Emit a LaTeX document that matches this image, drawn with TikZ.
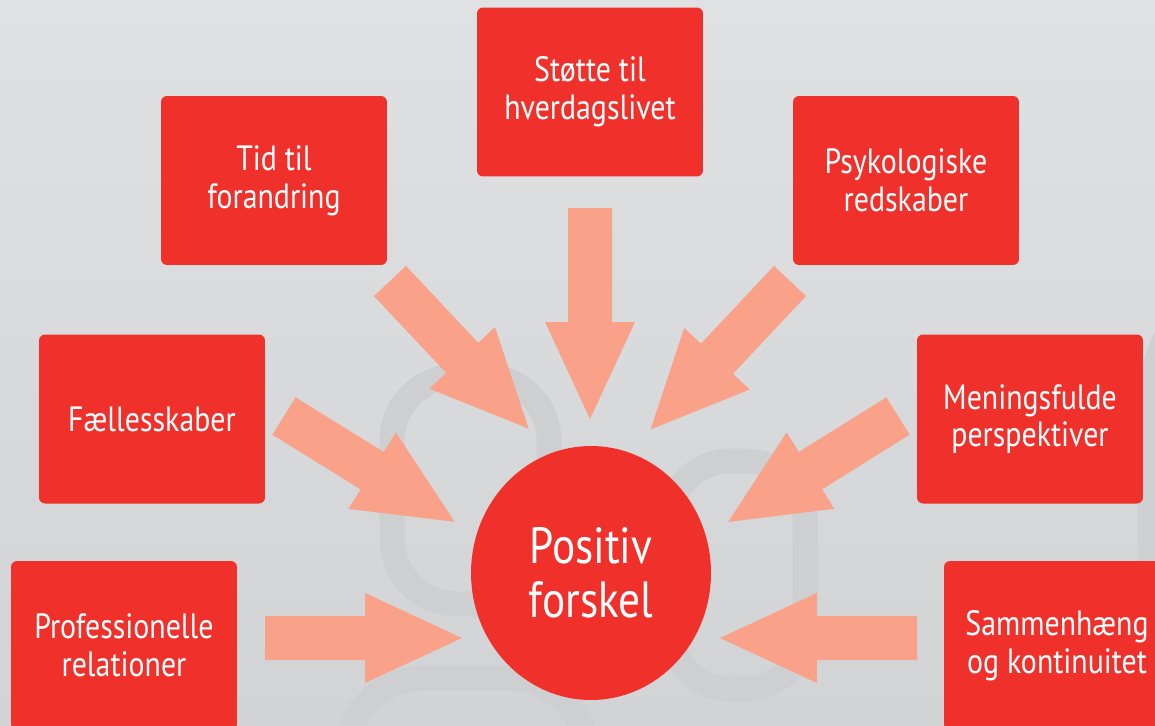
\documentclass[tikz,border=0pt]{standalone}
\usepackage{fontspec}
\setmainfont{PT Sans}[FakeStretch=0.85]
\usetikzlibrary{calc, shapes.geometric}

\definecolor{boxred}{RGB}{240,48,43}
\definecolor{arrowpink}{RGB}{249,161,137}
\definecolor{bgtop}{RGB}{224,225,227}
\definecolor{bgbottom}{RGB}{210,211,213}
\definecolor{marklines}{RGB}{206,207,209}

\tikzset{
  redbox/.style={fill=boxred, text=white, rounded corners=0.12cm,
    minimum width=4.52cm, minimum height=3.38cm, inner sep=0pt,
    align=center, font=\fontsize{20}{21.5}\selectfont},
  hub/.style={ellipse, fill=boxred, text=white, inner sep=0pt,
    minimum width=4.8cm, minimum height=5.08cm,
    align=center, font=\fontsize{29}{31}\selectfont},
  watermark/.style={draw=marklines, line width=0.5cm},
}

% block arrow from #1 (tail) to #2 (tip)
\newcommand{\blockarrow}[2]{%
  \fill[arrowpink] let \p1 = ($(#2)-(#1)$), \n1 = {atan2(\y1,\x1)},
      \n2 = {veclen(\x1,\y1)} in
    {[shift={(#1)}, rotate=\n1]
      (0pt,-0.44cm) -- ({\n2-1.94cm},-0.44cm) -- ({\n2-1.94cm},-0.9cm)
      -- (\n2,0pt) -- ({\n2-1.94cm},0.9cm) -- ({\n2-1.94cm},0.44cm)
      -- (0pt,0.44cm) -- cycle};
}

\begin{document}
\begin{tikzpicture}[x=0.02cm, y=-0.02cm]
    \useasboundingbox (0,0) rectangle (1155,725);
    \clip (0,0) rectangle (1155,725);

    % Background
    \shade[top color=bgtop, bottom color=bgbottom] (0,0) rectangle (1155,725);
    \draw[watermark, rounded corners=1.3cm] (392,376) rectangle (549,604);
    \draw[watermark, rounded corners=1.2cm] (670,461) rectangle (805,689);
    \draw[watermark, rounded corners=1.6cm] (345,678) rectangle (588,900);
    \draw[watermark, rounded corners=3cm] (1150,255) rectangle (1450,800);

    % Arrow ends
    \coordinate (tid-out) at (390,281);   \coordinate (tid-in) at (529,429);
    \coordinate (stotte-out) at (590,208); \coordinate (stotte-in) at (590,419);
    \coordinate (psyk-out) at (790,281);  \coordinate (psyk-in) at (650,430);
    \coordinate (faelles-out) at (284,416); \coordinate (faelles-in) at (455,522);
    \coordinate (mening-out) at (898,416); \coordinate (mening-in) at (728,522);
    \coordinate (prof-out) at (265,638);  \coordinate (prof-in) at (462,638);
    \coordinate (sammen-out) at (917,638); \coordinate (sammen-in) at (720,638);

    % Arrows
    \foreach \src in {tid, stotte, psyk, faelles, mening, prof, sammen}
        \blockarrow{\src-out}{\src-in};

    % Boxes
    \node[redbox] (tid) at (274,180.5) {Tid til\\forandring};
    \node[redbox] (stotte) at (590,92) {Støtte til\\hverdagslivet};
    \node[redbox] (psyk) at (906,180.5) {Psykologiske\\redskaber};
    \node[redbox] (faelles) at (152,419) {Fællesskaber};
    \node[redbox] (mening) at (1030,419) {Meningsfulde\\perspektiver};
    \node[redbox] (prof) at (124,645.5) {Professionelle\\relationer};
    \node[redbox] (sammen) at (1057,645.5) {Sammenhæng\\og kontinuitet};

    % Centre
    \node[hub] (hub) at (591,573) {Positiv\\forskel};
\end{tikzpicture}
\end{document}
